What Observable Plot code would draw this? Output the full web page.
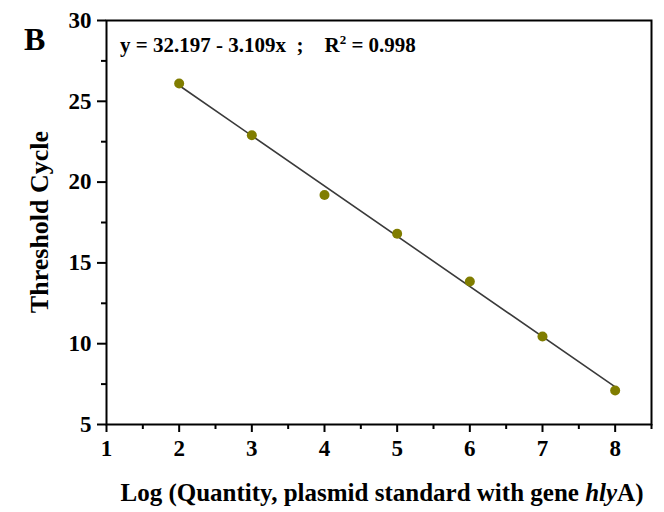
<!DOCTYPE html>
<html><head><meta charset="utf-8">
<script src="https://cdn.jsdelivr.net/npm/d3@7"></script>
<script src="https://cdn.jsdelivr.net/npm/@observablehq/plot@0.6"></script>
<style>body{margin:0;background:#fff}</style>
</head><body><div id="chart"></div>
<script>
const logQuantity = [2, 3, 4, 5, 6, 7, 8];
const thresholdCycle = [26.1, 22.9, 19.2, 16.8, 13.85, 10.45, 7.1];
const fitIntercept = 32.197;
const fitSlope = -3.109;
const fitRSquared = "0.998";
const fitRange = [2, 8];
const xTicks = [1, 2, 3, 4, 5, 6, 7, 8];
const xMinorTicks = [1.5, 2.5, 3.5, 4.5, 5.5, 6.5, 7.5, 8.5];
const yTicks = [5, 10, 15, 20, 25, 30];
const yMinorTicks = [7.5, 12.5, 17.5, 22.5, 27.5];
const panelLabel = "B";
const yLabel = "Threshold Cycle";

const points = logQuantity.map((x, i) => ({x, y: thresholdCycle[i]}));
const fitLine = fitRange.map(x => ({x, y: fitIntercept + fitSlope * x}));
const serif = "'Liberation Serif', 'Times New Roman', serif";

const plot = Plot.plot({
  width: 664, height: 512,
  marginLeft: 106, marginRight: 13, marginTop: 20, marginBottom: 88,
  x: {domain: [1, 8.5]},
  y: {domain: [5, 30]},
  style: {fontFamily: serif, fontWeight: "bold", fontSize: "23px", color: "#000", background: "#fff", overflow: "visible"},
  marks: [
    Plot.axisX({ticks: xTicks, tickSize: 8, tickPadding: 7, label: null, strokeWidth: 2}),
    Plot.axisX({ticks: xMinorTicks, tickSize: 5, text: null, label: null, strokeWidth: 2}),
    Plot.axisY({ticks: yTicks, tickSize: 9, tickPadding: 6, label: null, strokeWidth: 2}),
    Plot.axisY({ticks: yMinorTicks, tickSize: 5, text: null, label: null, strokeWidth: 2}),
    Plot.frame({stroke: "#000", strokeWidth: 2}),
    Plot.line(fitLine, {x: "x", y: "y", stroke: "#3a3a3a", strokeWidth: 1.6}),
    Plot.dot(points, {x: "x", y: "y", r: 5, fill: "#807d00", stroke: "none"})
  ]
});
document.getElementById("chart").appendChild(plot);

const svg = d3.select(plot);
const g = svg.append("g").attr("font-family", serif).attr("font-weight", "bold").attr("fill", "#000").attr("text-anchor", "start");
g.append("text").attr("x", 24).attr("y", 50).attr("font-size", 32).text(panelLabel);
const eq = g.append("text").attr("x", 120).attr("y", 52).attr("font-size", 21).attr("xml:space", "preserve");
eq.append("tspan").text(`y = ${fitIntercept} - ${Math.abs(fitSlope)}x  ;    R`);
eq.append("tspan").attr("font-size", 13).attr("dy", -8).text("2");
eq.append("tspan").attr("dy", 8).text(` = ${fitRSquared}`);
g.append("text").attr("transform", "translate(48,222) rotate(-90)").attr("text-anchor", "middle").attr("font-size", 26).text(yLabel);
const xl = g.append("text").attr("x", 382).attr("y", 501).attr("text-anchor", "middle").attr("font-size", 25);
xl.append("tspan").text("Log (Quantity, plasmid standard with gene ");
xl.append("tspan").attr("font-style", "italic").text("hly");
xl.append("tspan").text("A)");
</script></body></html>
